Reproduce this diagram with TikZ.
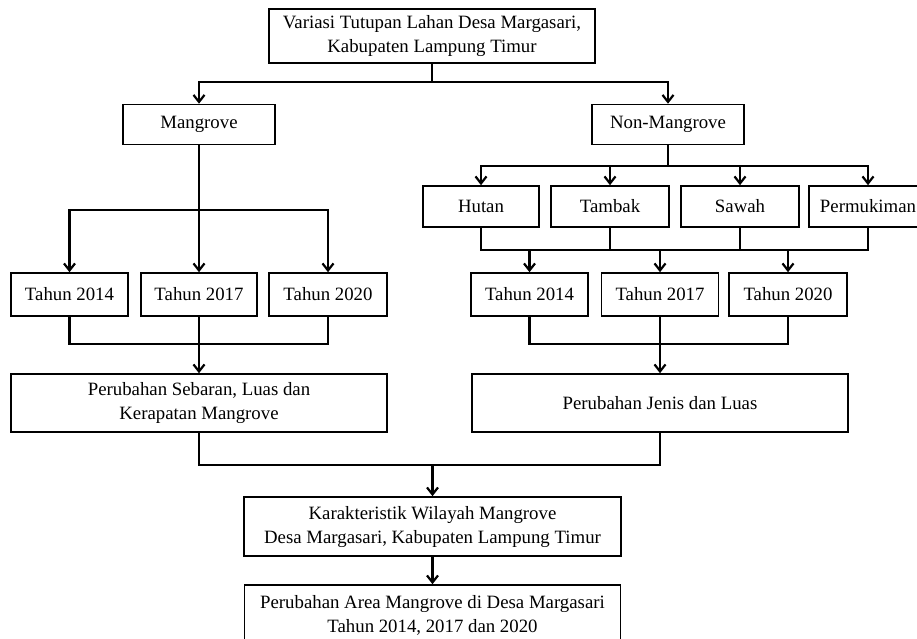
\documentclass[tikz,border=0pt]{standalone}
\usepackage{fontspec}
\setmainfont{Liberation Serif}
\usetikzlibrary{arrows.meta}
\begin{document}
\begin{tikzpicture}[x=1pt,y=-1pt,
  box/.style={draw, line width=1.6pt, rectangle, inner sep=0pt, align=center,
    font=\fontsize{18.8}{24}\selectfont},
  conn/.style={line width=2.2pt},
  arr/.style={conn, -{Straight Barb[length=7pt,width=11pt,line width=2.2pt]}}]
\useasboundingbox (0,0) rectangle (917,638);
\clip (0,0) rectangle (917,638);
% boxes
\node[box, minimum width=326pt, minimum height=54pt] (top) at (432,36) {Variasi Tutupan Lahan Desa Margasari,\\Kabupaten Lampung Timur};
\node[box, minimum width=152pt, minimum height=40pt] (mang) at (199,124.5) {Mangrove};
\node[box, minimum width=152pt, minimum height=40pt] (nonm) at (668,124.5) {Non-Mangrove};
\node[box, minimum width=117pt, minimum height=43pt] (lt1) at (69.5,294.5) {Tahun 2014};
\node[box, minimum width=116pt, minimum height=43pt] (lt2) at (199,294.5) {Tahun 2017};
\node[box, minimum width=118pt, minimum height=43pt] (lt3) at (328,294.5) {Tahun 2020};
\node[box, minimum width=116pt, minimum height=41pt] (hutan) at (481,206.5) {Hutan};
\node[box, minimum width=118pt, minimum height=41pt] (tambak) at (610,206.5) {Tambak};
\node[box, minimum width=118pt, minimum height=41pt] (sawah) at (740,206.5) {Sawah};
\node[box, minimum width=118pt, minimum height=41pt] (perm) at (868,206.5) {Permukiman};
\node[box, minimum width=117pt, minimum height=43pt] (rt1) at (529.5,294.5) {Tahun 2014};
\node[box, minimum width=117pt, minimum height=43pt] (rt2) at (660,294.5) {Tahun 2017};
\node[box, minimum width=118pt, minimum height=43pt] (rt3) at (788,294.5) {Tahun 2020};
\node[box, minimum width=376pt, minimum height=58pt] (lbig) at (199,403) {Perubahan Sebaran, Luas dan\\Kerapatan Mangrove};
\node[box, minimum width=376pt, minimum height=58pt] (rbig) at (660,403) {Perubahan Jenis dan Luas};
\node[box, minimum width=377pt, minimum height=59pt] (kar) at (432.5,526.5) {Karakteristik Wilayah Mangrove\\Desa Margasari, Kabupaten Lampung Timur};
\node[box, minimum width=376pt, minimum height=60pt] (last) at (432.5,615) {Perubahan Area Mangrove di Desa Margasari\\Tahun 2014, 2017 dan 2020};
% junctions
\coordinate (j1) at (432,82);
\coordinate (j2) at (199,210);
\coordinate (j3) at (199,344);
\coordinate (j4) at (668,166);
\coordinate (j5) at (660,250);
\coordinate (j6) at (660,344);
\coordinate (j7) at (432.5,465);
% connectors
\draw[conn] (top.south) -- (j1);
\draw[arr] (j1) -| (mang.north);
\draw[arr] (j1) -| (nonm.north);
\draw[arr] (mang.south) -- (lt2.north);
\draw[arr] (j2) -| (lt1.north);
\draw[arr] (j2) -| (lt3.north);
\draw[conn] (lt1.south) |- (j3) -| (lt3.south);
\draw[arr] (lt2.south) -- (lbig.north);
\draw[conn] (nonm.south) -- (j4);
\draw[arr] (j4) -| (hutan.north);
\draw[arr] (j4) -| (tambak.north);
\draw[arr] (j4) -| (sawah.north);
\draw[arr] (j4) -| (perm.north);
\draw[conn] (hutan.south) |- (j5) -| (perm.south);
\draw[conn] (tambak.south) -- (tambak.south |- j5);
\draw[conn] (sawah.south) -- (sawah.south |- j5);
\draw[arr] (rt1.north |- j5) -- (rt1.north);
\draw[arr] (rt2.north |- j5) -- (rt2.north);
\draw[arr] (rt3.north |- j5) -- (rt3.north);
\draw[conn] (rt1.south) |- (j6) -| (rt3.south);
\draw[arr] (rt2.south) -- (rbig.north);
\draw[conn] (lbig.south) |- (j7) -| (rbig.south);
\draw[arr] (j7) -- (kar.north);
\draw[arr] (kar.south) -- (last.north);
\end{tikzpicture}
\end{document}
